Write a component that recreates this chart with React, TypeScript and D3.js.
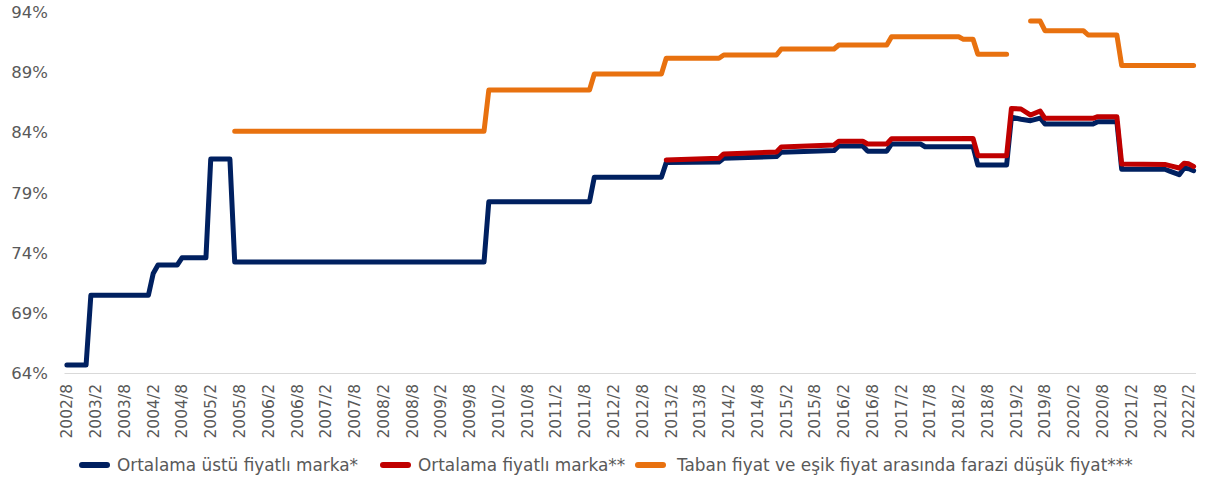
import React, { useEffect, useRef } from 'react';
import * as d3 from 'd3';

// monthly category axis, 2002/8 .. 2022/3
const fmtMonth = d3.timeFormat('%Y/%-m');
const months: string[] = d3.timeMonth
  .range(new Date(2002, 7, 1), new Date(2022, 3, 1))
  .map(d => fmtMonth(d));

// every 6th month gets a label
const tickLabels: string[] = months.filter((m, i) => i % 6 === 0);

const yTicks = [64, 69, 74, 79, 84, 89, 94];

// series, vertices only (flat runs between them)
const aboveAvg: [string, number][] = [
  ['2002/8', 64.7], ['2002/12', 64.7], ['2003/1', 70.5], ['2004/1', 70.5],
  ['2004/2', 72.3], ['2004/3', 73.0], ['2004/7', 73.0], ['2004/8', 73.6],
  ['2005/1', 73.6], ['2005/2', 81.8], ['2005/6', 81.8], ['2005/7', 73.25],
  ['2009/11', 73.25], ['2009/12', 78.26], ['2011/9', 78.26], ['2011/10', 80.28],
  ['2012/12', 80.28], ['2013/1', 81.5], ['2013/12', 81.55], ['2014/1', 81.86],
  ['2014/12', 82.0], ['2015/1', 82.36], ['2015/12', 82.5], ['2016/1', 82.88],
  ['2016/6', 82.88], ['2016/7', 82.45], ['2016/11', 82.45], ['2016/12', 83.05],
  ['2017/6', 83.05], ['2017/7', 82.82], ['2018/5', 82.82], ['2018/6', 81.3],
  ['2018/12', 81.3], ['2019/1', 85.27], ['2019/3', 85.1], ['2019/5', 84.98],
  ['2019/7', 85.2], ['2019/8', 84.7], ['2020/6', 84.7], ['2020/7', 84.9],
  ['2020/11', 84.9], ['2020/12', 80.95], ['2021/9', 80.95], ['2021/10', 80.8],
  ['2021/12', 80.5], ['2022/1', 81.03], ['2022/2', 81.0], ['2022/3', 80.83],
];

const avg: [string, number][] = [
  ['2013/1', 81.72], ['2013/12', 81.86], ['2014/1', 82.22], ['2014/12', 82.38],
  ['2015/1', 82.8], ['2015/12', 82.96], ['2016/1', 83.27], ['2016/6', 83.27],
  ['2016/7', 83.05], ['2016/11', 83.05], ['2016/12', 83.48], ['2018/5', 83.5],
  ['2018/6', 82.08], ['2018/12', 82.08], ['2019/1', 86.0], ['2019/3', 85.95],
  ['2019/5', 85.45], ['2019/7', 85.78], ['2019/8', 85.18], ['2020/6', 85.18],
  ['2020/7', 85.31], ['2020/11', 85.31], ['2020/12', 81.39], ['2021/9', 81.35],
  ['2021/10', 81.25], ['2021/12', 81.05], ['2022/1', 81.44], ['2022/2', 81.4],
  ['2022/3', 81.18],
];

// null = no value (gap in the line)
const lowPrice: [string, number | null][] = [
  ['2005/7', 84.1], ['2009/11', 84.1], ['2009/12', 87.53], ['2011/9', 87.53],
  ['2011/10', 88.86], ['2012/12', 88.86], ['2013/1', 90.16], ['2013/12', 90.16],
  ['2014/1', 90.43], ['2014/12', 90.43], ['2015/1', 90.93], ['2015/12', 90.93],
  ['2016/1', 91.26], ['2016/11', 91.26], ['2016/12', 91.95], ['2018/2', 91.95],
  ['2018/3', 91.73], ['2018/5', 91.73], ['2018/6', 90.5], ['2018/12', 90.5],
  ['2019/1', null],
  ['2019/5', 93.25], ['2019/7', 93.25], ['2019/8', 92.45], ['2020/4', 92.45],
  ['2020/5', 92.09], ['2020/11', 92.09], ['2020/12', 89.55], ['2022/3', 89.55],
];

const seriesNames = [
  'Ortalama üstü fiyatlı marka*',
  'Ortalama fiyatlı marka**',
  'Taban fiyat ve eşik fiyat arasında farazi düşük fiyat***',
];
const colors = ['#002060', '#C00000', '#E8710F'];

const W = 1207;
const H = 483;
const FONT = '"DejaVu Sans", Verdana, sans-serif';

export default function App() {
  const ref = useRef<SVGSVGElement>(null);

  useEffect(() => {
    const svg = d3.select(ref.current);
    svg.selectAll('*').remove();

    const x = d3.scalePoint<string>().domain(months).range([64.5, 1196]).padding(0.5);
    const y = d3.scaleLinear().domain([64, 94]).range([373.5, 12]);

    // y labels (no axis line in the original)
    svg.append('g')
      .selectAll('text')
      .data(yTicks)
      .join('text')
      .attr('x', 48)
      .attr('y', d => y(d))
      .attr('dy', '0.35em')
      .attr('text-anchor', 'end')
      .attr('font-family', FONT)
      .attr('font-size', 16.5)
      .attr('fill', '#595959')
      .text(d => d + '%');

    // x axis baseline
    svg.append('line')
      .attr('x1', 64.5).attr('x2', 1196)
      .attr('y1', 373.5).attr('y2', 373.5)
      .attr('stroke', '#D9D9D9')
      .attr('stroke-width', 1);

    svg.append('g')
      .selectAll('text')
      .data(tickLabels)
      .join('text')
      .attr('transform', d => `translate(${(x(d) as number) + 5.5},384) rotate(-90)`)
      .attr('text-anchor', 'end')
      .attr('font-family', FONT)
      .attr('font-size', 15.5)
      .attr('fill', '#595959')
      .text(d => d);

    const line = d3.line<[string, number | null]>()
      .defined(d => d[1] != null)
      .x(d => x(d[0]) as number)
      .y(d => y(d[1] as number));

    const all = [aboveAvg, avg, lowPrice] as [string, number | null][][];
    all.forEach((s, i) => {
      svg.append('path')
        .datum(s)
        .attr('d', line)
        .attr('fill', 'none')
        .attr('stroke', colors[i])
        .attr('stroke-width', 5)
        .attr('stroke-linejoin', 'round')
        .attr('stroke-linecap', 'round');
    });

    // legend
    const legX = [80, 381, 636];
    const leg = svg.append('g');
    seriesNames.forEach((name, i) => {
      leg.append('line')
        .attr('x1', legX[i] + 2).attr('x2', legX[i] + 27)
        .attr('y1', 465).attr('y2', 465)
        .attr('stroke', colors[i])
        .attr('stroke-width', 6)
        .attr('stroke-linecap', 'round');
      leg.append('text')
        .attr('x', legX[i] + (i === 2 ? 41 : 37))
        .attr('y', 465)
        .attr('dy', '0.35em')
        .attr('font-family', FONT)
        .attr('font-size', 16.9)
        .attr('fill', '#595959')
        .text(name);
    });
  }, []);

  return (
    <svg
      ref={ref}
      width={W}
      height={H}
      style={{ position: 'absolute', left: 0, top: 0, background: '#fff' }}
    />
  );
}
